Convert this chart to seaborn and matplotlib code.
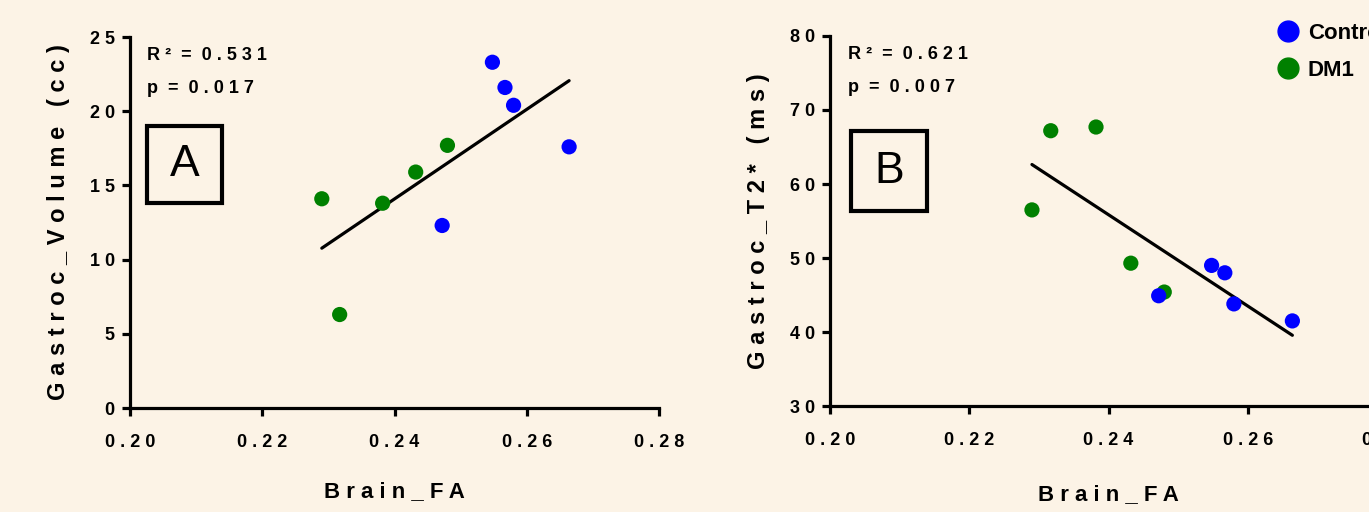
import matplotlib
matplotlib.use('Agg')
import numpy as np
import pandas as pd
import seaborn as sns
import matplotlib.pyplot as plt
from matplotlib.patches import Rectangle
from matplotlib.lines import Line2D

sns.set_style('ticks')
plt.rcParams['font.family'] = ['Liberation Sans', 'DejaVu Sans']
plt.rcParams['text.color'] = 'black'
plt.rcParams['axes.labelcolor'] = 'black'

bg = '#fcf3e6'

# data
groups = ['DM1'] * 5 + ['Control'] * 5
brain_fa = [0.2290, 0.2317, 0.2382, 0.2432, 0.2480,
            0.2472, 0.2548, 0.2567, 0.2580, 0.2664]
gastroc_volume = [14.1, 6.3, 13.8, 15.9, 17.7,
                  12.3, 23.3, 21.6, 20.4, 17.6]
gastroc_t2 = [56.5, 67.2, 67.7, 49.3, 45.4,
              44.9, 49.0, 48.0, 43.8, 41.5]

x_ticks = [0.20, 0.22, 0.24, 0.26, 0.28]
x_tick_labels = ['0.20', '0.22', '0.24', '0.26', '0.28']
vol_ticks = [0, 5, 10, 15, 20, 25]
t2_ticks = [30, 40, 50, 60, 70, 80]

r2_vals = ['0.531', '0.621']
p_vals = ['0.017', '0.007']
panel_letters = ['A', 'B']

palette = {'Control': '#0000ff', 'DM1': '#008000'}

df = pd.DataFrame({'Brain_FA': brain_fa, 'Volume': gastroc_volume,
                   'T2': gastroc_t2, 'Group': groups})


def spaced(s):
    return ' '.join(s)


fig = plt.figure(figsize=(13.69, 5.12), dpi=100, facecolor=bg)
ax1 = fig.add_axes([0.0950, 0.2031, 0.3864, 0.7246])
ax2 = fig.add_axes([0.6063, 0.2070, 0.4069, 0.7227])

panels = [(ax1, 'Volume', vol_ticks, 'Gastroc_Volume (cc)', (0.032, 0.553, 0.142, 0.207), 21),
          (ax2, 'T2', t2_ticks, 'Gastroc_T2* (ms)', (0.038, 0.527, 0.136, 0.216), 25)]

for i, (ax, col, yt, ylab, box, xpad) in enumerate(panels):
    ax.set_facecolor(bg)
    sns.scatterplot(x='Brain_FA', y=col, hue='Group', data=df, palette=palette,
                    s=120, linewidth=0, legend=False, ax=ax, zorder=3)
    sns.regplot(x='Brain_FA', y=col, data=df, scatter=False, ci=None,
                color='black', line_kws={'lw': 2.3}, ax=ax)
    ax.set_xlim(x_ticks[0], x_ticks[-1])
    ax.set_ylim(yt[0], yt[-1])
    ax.set_xticks(x_ticks, [spaced(t) for t in x_tick_labels])
    ax.set_yticks(yt, [spaced(str(t)) for t in yt])
    sns.despine(ax=ax)
    for sp in ['left', 'bottom']:
        ax.spines[sp].set_linewidth(2.3)
        ax.spines[sp].set_color('black')
    ax.tick_params(axis='both', direction='out', length=6, width=2.3,
                   labelsize=13, colors='black')
    ax.tick_params(axis='x', pad=13)
    ax.tick_params(axis='y', pad=5)
    for lab in ax.get_xticklabels() + ax.get_yticklabels():
        lab.set_fontweight('bold')
    ax.set_xlabel(spaced('Brain_FA'), fontsize=16, fontweight='bold', labelpad=xpad)
    ax.set_ylabel(spaced(ylab), fontsize=17, fontweight='bold', labelpad=14)

    ax.text(0.032, 0.95, 'R ²  =  ' + spaced(r2_vals[i]), transform=ax.transAxes,
            fontsize=13, fontweight='bold', va='center', ha='left')
    ax.text(0.032, 0.86, 'p  =  ' + spaced(p_vals[i]), transform=ax.transAxes,
            fontsize=13, fontweight='bold', va='center', ha='left')

    bx, by, bw, bh = box
    ax.add_patch(Rectangle((bx, by), bw, bh, transform=ax.transAxes, fill=False,
                           ec='black', lw=3, clip_on=False, zorder=4))
    ax.text(bx + bw / 2, by + bh / 2, panel_letters[i], transform=ax.transAxes,
            fontsize=32, ha='center', va='center')

handles = [Line2D([], [], marker='o', ls='', color=palette[g], markersize=15)
           for g in ['Control', 'DM1']]
fig.legend(handles, ['Control', 'DM1'], loc='upper left',
           bbox_to_anchor=(0.9195, 0.995), frameon=False, handlelength=0.8,
           handletextpad=0.5, labelspacing=0.75,
           prop={'size': 16, 'weight': 'bold'})

fig.savefig('out.png', dpi=100, facecolor=bg)
